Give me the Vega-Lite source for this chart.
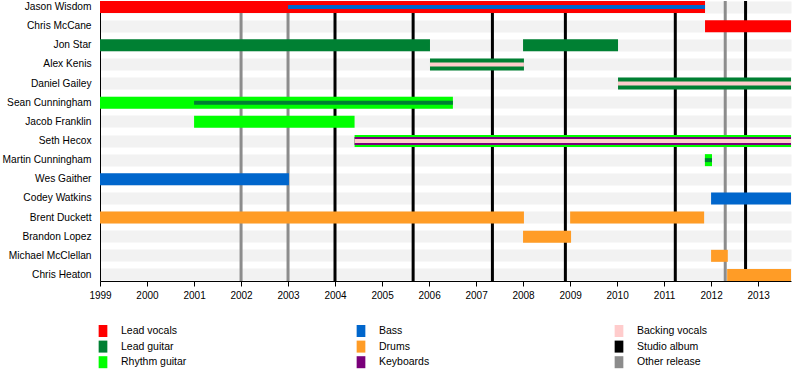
{
  "$schema": "https://vega.github.io/schema/vega-lite/v6.json",
  "width": 691,
  "height": 280,
  "autosize": {"type": "none"},
  "padding": {"left": 100, "top": 1, "right": 9, "bottom": 89},
  "background": "white",
  "config": {
    "view": {"stroke": null},
    "font": "Liberation Sans",
    "legend": {
      "orient": "none",
      "legendX": -3,
      "legendY": 324,
      "columns": 3,
      "gridAlign": "all",
      "columnPadding": 163,
      "rowPadding": 3.6,
      "padding": 0,
      "symbolType": "M-0.725,-1H0.725V1H-0.725Z",
      "symbolSize": 144,
      "symbolStrokeWidth": 0,
      "symbolOpacity": 1,
      "labelOffset": 12,
      "labelFont": "Liberation Sans",
      "labelFontSize": 10.5,
      "labelColor": "#000000",
      "labelLimit": 200
    }
  },
  "datasets": {
    "members": [
      {"name": "Jason Wisdom", "role": "Lead vocals", "start": "1999-01-01", "end": "2011-11-15", "tier": "main"},
      {"name": "Jason Wisdom", "role": "Bass", "start": "2003-01-01", "end": "2011-11-15", "tier": "third"},
      {"name": "Chris McCane", "role": "Lead vocals", "start": "2011-11-15", "end": "2013-09-13", "tier": "main"},
      {"name": "Jon Star", "role": "Lead guitar", "start": "1999-01-01", "end": "2006-01-08", "tier": "main"},
      {"name": "Jon Star", "role": "Lead guitar", "start": "2008-01-01", "end": "2010-01-08", "tier": "main"},
      {"name": "Alex Kenis", "role": "Lead guitar", "start": "2006-01-08", "end": "2008-01-08", "tier": "main"},
      {"name": "Alex Kenis", "role": "Backing vocals", "start": "2006-01-08", "end": "2008-01-08", "tier": "third"},
      {"name": "Daniel Gailey", "role": "Lead guitar", "start": "2010-01-08", "end": "2013-09-13", "tier": "main"},
      {"name": "Daniel Gailey", "role": "Backing vocals", "start": "2010-01-08", "end": "2013-09-13", "tier": "third"},
      {"name": "Sean Cunningham", "role": "Rhythm guitar", "start": "1999-01-01", "end": "2006-07-05", "tier": "main"},
      {"name": "Sean Cunningham", "role": "Lead guitar", "start": "2001-01-01", "end": "2006-07-05", "tier": "third"},
      {"name": "Jacob Franklin", "role": "Rhythm guitar", "start": "2001-01-01", "end": "2004-06-01", "tier": "main"},
      {"name": "Seth Hecox", "role": "Rhythm guitar", "start": "2004-06-01", "end": "2013-09-13", "tier": "main"},
      {"name": "Seth Hecox", "role": "Keyboards", "start": "2004-06-01", "end": "2013-09-13", "tier": "second"},
      {"name": "Seth Hecox", "role": "Backing vocals", "start": "2004-06-01", "end": "2013-09-13", "tier": "third"},
      {"name": "Martin Cunningham", "role": "Rhythm guitar", "start": "2011-11-14", "end": "2012-01-08", "tier": "main"},
      {"name": "Martin Cunningham", "role": "Lead guitar", "start": "2011-11-14", "end": "2012-01-08", "tier": "third"},
      {"name": "Wes Gaither", "role": "Bass", "start": "1999-01-01", "end": "2003-01-08", "tier": "main"},
      {"name": "Codey Watkins", "role": "Bass", "start": "2012-01-01", "end": "2013-09-13", "tier": "main"},
      {"name": "Brent Duckett", "role": "Drums", "start": "1999-01-01", "end": "2008-01-08", "tier": "main"},
      {"name": "Brent Duckett", "role": "Drums", "start": "2009-01-01", "end": "2011-11-08", "tier": "main"},
      {"name": "Brandon Lopez", "role": "Drums", "start": "2008-01-01", "end": "2009-01-08", "tier": "main"},
      {"name": "Michael McClellan", "role": "Drums", "start": "2012-01-01", "end": "2012-05-10", "tier": "main"},
      {"name": "Chris Heaton", "role": "Drums", "start": "2012-05-05", "end": "2013-09-13", "tier": "main"}
    ],
    "releases": [
      {"role": "Other release", "start": "2002-01-01"},
      {"role": "Other release", "start": "2003-01-01"},
      {"role": "Other release", "start": "2012-04-20"},
      {"role": "Studio album", "start": "2004-01-01"},
      {"role": "Studio album", "start": "2005-08-30"},
      {"role": "Studio album", "start": "2007-05-08"},
      {"role": "Studio album", "start": "2008-11-25"},
      {"role": "Studio album", "start": "2011-03-29"},
      {"role": "Studio album", "start": "2012-09-25"}
    ]
  },
  "encoding": {
    "x": {
      "field": "start",
      "type": "temporal",
      "scale": {"type": "utc", "domain": [{"year": 1999, "month": 1, "date": 1, "utc": true}, {"year": 2013, "month": 9, "date": 13, "utc": true}], "nice": false},
      "axis": {
        "title": null,
        "grid": false,
        "format": "%Y",
        "tickCount": {"interval": "year", "step": 1},
        "domainColor": "#000000",
        "tickColor": "#000000",
        "tickSize": 5,
        "labelPadding": 4,
        "labelFont": "Liberation Sans",
        "labelFontSize": 10,
        "labelColor": "#000000",
        "labelOverlap": false,
        "labelFlush": false
      }
    },
    "color": {
      "field": "role",
      "type": "nominal",
      "scale": {
        "domain": ["Lead vocals", "Lead guitar", "Rhythm guitar", "Bass", "Drums", "Keyboards", "Backing vocals", "Studio album", "Other release"],
        "range": ["#ff0000", "#008033", "#00ff00", "#0066cc", "#ff9c26", "#7a007a", "#ffcccc", "#000000", "#8c8c8c"]
      },
      "legend": {"title": null}
    }
  },
  "layer": [
    {
      "data": {"name": "releases"},
      "mark": {"type": "rule", "strokeWidth": 3},
      "encoding": {}
    },
    {
      "data": {"name": "members"},
      "transform": [{"filter": "datum.tier === 'main'"}],
      "mark": {"type": "bar", "height": 12},
      "encoding": {
        "y": {
          "field": "name",
          "type": "nominal",
          "scale": {
            "domain": ["Jason Wisdom", "Chris McCane", "Jon Star", "Alex Kenis", "Daniel Gailey", "Sean Cunningham", "Jacob Franklin", "Seth Hecox", "Martin Cunningham", "Wes Gaither", "Codey Watkins", "Brent Duckett", "Brandon Lopez", "Michael McClellan", "Chris Heaton"],
            "paddingInner": 0.37,
            "paddingOuter": 0
          },
          "axis": {
            "title": null,
            "ticks": false,
            "tickSize": 0,
            "domain": true,
            "domainColor": "#000000",
            "domainWidth": 1,
            "labelPadding": 9,
            "labelFont": "Liberation Sans",
            "labelFontSize": 10.2,
            "labelColor": "#000000",
            "grid": true,
            "gridColor": "#f2f2f2",
            "gridWidth": 12,
            "gridOpacity": 1,
            "bandPosition": 0.5
          }
        },
        "x2": {"field": "end"}
      }
    },
    {
      "data": {"name": "members"},
      "transform": [{"filter": "datum.tier === 'second'"}],
      "mark": {"type": "bar", "height": 8},
      "encoding": {
        "y": {"field": "name", "type": "nominal"},
        "x2": {"field": "end"}
      }
    },
    {
      "data": {"name": "members"},
      "transform": [{"filter": "datum.tier === 'third'"}],
      "mark": {"type": "bar", "height": 4},
      "encoding": {
        "y": {"field": "name", "type": "nominal"},
        "x2": {"field": "end"}
      }
    }
  ]
}
